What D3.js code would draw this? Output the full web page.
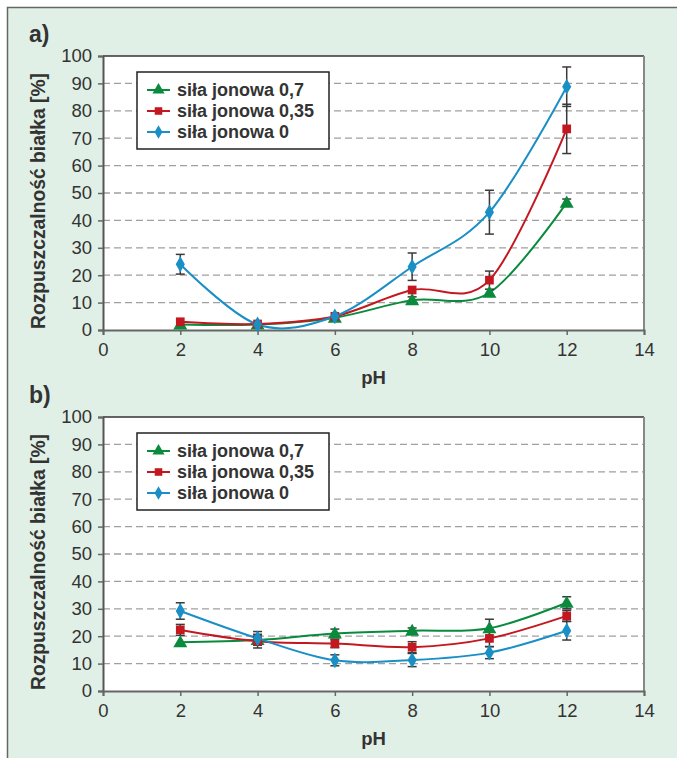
<!DOCTYPE html>
<html>
<head>
<meta charset="utf-8">
<script src="https://cdn.jsdelivr.net/npm/d3@7"></script>
<style>
  html, body { margin: 0; padding: 0; background: #ffffff; }
  svg { display: block; }
  text { font-family: "Liberation Sans", Arial, sans-serif; }
</style>
</head>
<body>
<svg id="chart" width="677" height="758"></svg>
<script>
// ---------- data ----------
const pH = [2, 4, 6, 8, 10, 12];
const seriesNames = ["siła jonowa 0,7", "siła jonowa 0,35", "siła jonowa 0"];
const xTicks = [0, 2, 4, 6, 8, 10, 12, 14];
const yTicks = [0, 10, 20, 30, 40, 50, 60, 70, 80, 90, 100];
const yTitle = "Rozpuszczalność białka [%]";
const xTitle = "pH";
const panelLabels = ["a)", "b)"];

// panel a
const a07 = [2, 2, 4.5, 10.9, 13.6, 46.5];
const a07err = [0, 0, 0, 1.2, 0, 1.3];
const a035 = [3, 2.2, 5, 14.6, 18.2, 73.4];
const a035err = [0, 0, 0, 0, 3.3, 9];
const a0 = [24, 2, 5, 23.1, 43, 88.8];
const a0err = [3.6, 0, 0, 5, 8, 7.2];

// panel b
const b07 = [17.8, 18.6, 21, 22, 22.9, 32.2];
const b07err = [0, 1.5, 1.6, 1, 3.3, 2.2];
const b035 = [22.3, 18.2, 17.3, 16, 19.2, 27.4];
const b035err = [2, 2.5, 1.5, 2, 3, 2];
const b0 = [29.2, 19.2, 11.2, 11.3, 14, 22];
const b0err = [3, 2.5, 2, 2.4, 2.2, 3.4];

// ---------- styles ----------
const colors = ["#0a8a3c", "#c41820", "#1a8fc6"];
const shapes = [d3.symbolTriangle, d3.symbolSquare, d3.symbolDiamond];
const shapeSizes = [85, 76, 72];

const svg = d3.select("#chart");

// outer panel background
svg.append("rect")
  .attr("x", 7.5).attr("y", 7.5)
  .attr("width", 700).attr("height", 800)
  .attr("fill", "#e1f0e6")
  .attr("stroke", "#666").attr("stroke-width", 1.5);

const plotLeft = 103, plotRight = 644, plotH = 274;

function drawPanel(top, label, series) {
  const bottom = top + plotH;
  const x = d3.scaleLinear().domain([0, 14]).range([plotLeft, plotRight]);
  const y = d3.scaleLinear().domain([0, 100]).range([bottom, top]);
  const g = svg.append("g");

  // plot background
  g.append("rect")
    .attr("x", plotLeft).attr("y", top)
    .attr("width", plotRight - plotLeft).attr("height", plotH)
    .attr("fill", "#ffffff");

  // gridlines
  g.selectAll(".grid").data(yTicks.filter(t => t > 0 && t < 100)).enter()
    .append("line")
    .attr("x1", plotLeft).attr("x2", plotRight)
    .attr("y1", d => y(d)).attr("y2", d => y(d))
    .attr("stroke", "#a0a0a0").attr("stroke-width", 1.3)
    .attr("stroke-dasharray", "7,4");

  // borders
  g.append("line").attr("x1", plotLeft).attr("x2", plotRight)
    .attr("y1", top).attr("y2", top)
    .attr("stroke", "#333").attr("stroke-width", 1.5);
  g.append("line").attr("x1", plotRight).attr("x2", plotRight)
    .attr("y1", top).attr("y2", bottom)
    .attr("stroke", "#888").attr("stroke-width", 2);

  // y axis
  const yAxis = d3.axisLeft(y).tickValues(yTicks).tickSize(5).tickPadding(6)
    .tickFormat(d3.format("d"));
  const ya = g.append("g").attr("transform", `translate(${plotLeft},0)`).call(yAxis);
  ya.select(".domain").attr("stroke", "#555").attr("stroke-width", 2);
  ya.selectAll(".tick line").attr("stroke", "#666").attr("stroke-width", 1.5);
  ya.selectAll(".tick text").attr("font-size", 18.5).attr("fill", "#333")
    .attr("font-family", "Liberation Sans, Arial, sans-serif");

  // x axis
  const xAxis = d3.axisBottom(x).tickValues(xTicks).tickSize(5).tickPadding(8)
    .tickFormat(d3.format("d"));
  const xa = g.append("g").attr("transform", `translate(0,${bottom})`).call(xAxis);
  xa.select(".domain").attr("stroke", "#666").attr("stroke-width", 2);
  xa.selectAll(".tick line").attr("stroke", "#666").attr("stroke-width", 1.5);
  xa.selectAll(".tick text").attr("font-size", 18.5).attr("fill", "#333")
    .attr("font-family", "Liberation Sans, Arial, sans-serif");

  // titles
  g.append("text")
    .attr("x", (plotLeft + plotRight) / 2).attr("y", bottom + 54)
    .attr("text-anchor", "middle").attr("font-size", 18.5).attr("font-weight", "bold")
    .attr("fill", "#333").text(xTitle);
  g.append("text")
    .attr("transform", `translate(45,${top + 145}) rotate(-90)`)
    .attr("text-anchor", "middle").attr("font-size", 19.3).attr("font-weight", "bold")
    .attr("fill", "#333").text(yTitle);
  g.append("text")
    .attr("x", 29).attr("y", top - 14)
    .attr("font-size", 23).attr("font-weight", "bold")
    .attr("fill", "#333").text(label);

  // lines
  const line = d3.line()
    .x((d, i) => x(pH[i])).y(d => y(d))
    .curve(d3.curveCardinal.tension(0));
  series.forEach((s, k) => {
    g.append("path").attr("d", line(s.values))
      .attr("fill", "none").attr("stroke", colors[k]).attr("stroke-width", 2);
  });

  // error bars
  series.forEach((s, k) => {
    s.values.forEach((v, i) => {
      const e = s.err[i];
      if (!e) return;
      const cx = x(pH[i]);
      const eg = g.append("g").attr("stroke", "#3a3a3a").attr("stroke-width", 1.5);
      eg.append("line").attr("x1", cx).attr("x2", cx)
        .attr("y1", y(v - e)).attr("y2", y(v + e));
      eg.append("line").attr("x1", cx - 4.5).attr("x2", cx + 4.5)
        .attr("y1", y(v - e)).attr("y2", y(v - e));
      eg.append("line").attr("x1", cx - 4.5).attr("x2", cx + 4.5)
        .attr("y1", y(v + e)).attr("y2", y(v + e));
    });
  });

  // markers
  series.forEach((s, k) => {
    const sym = d3.symbol().type(shapes[k]).size(shapeSizes[k]);
    s.values.forEach((v, i) => {
      g.append("path").attr("d", sym())
        .attr("transform", `translate(${x(pH[i])},${y(v) + (k === 0 ? 1 : 0)})`)
        .attr("fill", colors[k]);
    });
  });

  // legend
  const lx = 137, ly = top + 16, lw = 192, lh = 77;
  const lg = g.append("g");
  lg.append("rect").attr("x", lx).attr("y", ly).attr("width", lw).attr("height", lh)
    .attr("fill", "#fff").attr("stroke", "#222").attr("stroke-width", 1.5);
  seriesNames.forEach((name, k) => {
    const ry = ly + 18 + k * 21;
    lg.append("line").attr("x1", lx + 10).attr("x2", lx + 33)
      .attr("y1", ry).attr("y2", ry)
      .attr("stroke", colors[k]).attr("stroke-width", 2);
    lg.append("path").attr("d", d3.symbol().type(shapes[k]).size(shapeSizes[k] * 0.75)())
      .attr("transform", `translate(${lx + 21.5},${ry})`).attr("fill", colors[k]);
    lg.append("text").attr("x", lx + 40).attr("y", ry + 6)
      .attr("font-size", 18).attr("font-weight", "bold").attr("fill", "#333")
      .text(name);
  });
}

drawPanel(56, panelLabels[0], [
  { values: a07, err: a07err },
  { values: a035, err: a035err },
  { values: a0, err: a0err }
]);
drawPanel(417, panelLabels[1], [
  { values: b07, err: b07err },
  { values: b035, err: b035err },
  { values: b0, err: b0err }
]);
</script>
</body>
</html>
